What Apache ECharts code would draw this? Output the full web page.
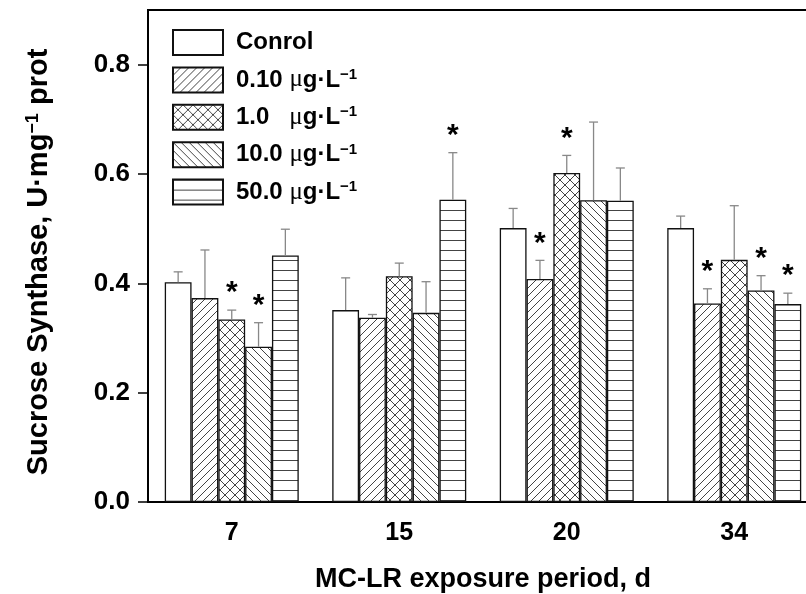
<!DOCTYPE html>
<html><head><meta charset="utf-8">
<script src="https://cdn.jsdelivr.net/npm/echarts@6/dist/echarts.min.js"></script>
<style>html,body{margin:0;padding:0;background:#fff;overflow:hidden}#c{width:818px;height:594px}</style>
</head><body><div id="c"></div>
<script>
const categories = ['7', '15', '20', '34'];
const seriesNames = ['Conrol', '0.10 μg·L−1', '1.0 μg·L−1', '10.0 μg·L−1', '50.0 μg·L−1'];
const control = [0.402, 0.351, 0.501, 0.501];
const c010 = [0.373, 0.337, 0.408, 0.363];
const c1 = [0.334, 0.413, 0.602, 0.443];
const c10 = [0.284, 0.346, 0.552, 0.387];
const c50 = [0.451, 0.553, 0.551, 0.362];
const errControl = [0.019, 0.059, 0.036, 0.022];
const err010 = [0.088, 0.006, 0.034, 0.027];
const err1 = [0.017, 0.024, 0.032, 0.099];
const err10 = [0.044, 0.057, 0.143, 0.027];
const err50 = [0.048, 0.086, 0.060, 0.020];
const sigControl = [0, 0, 0, 0];
const sig010 = [0, 0, 1, 1];
const sig1 = [1, 0, 1, 0];
const sig10 = [1, 0, 0, 1];
const sig50 = [0, 1, 0, 1];
const yTicks = [0, 0.2, 0.4, 0.6, 0.8];

const values = [control, c010, c1, c10, c50];
const errs = [errControl, err010, err1, err10, err50];
const sigs = [sigControl, sig010, sig1, sig10, sig50];

function makePattern(kind) {
  const s = kind === 'h' ? 10 : (kind === 'x' ? 10 : 8);
  const cv = document.createElement('canvas');
  cv.width = s; cv.height = s;
  const ctx = cv.getContext('2d');
  ctx.fillStyle = '#fff'; ctx.fillRect(0, 0, s, s);
  ctx.strokeStyle = '#444'; ctx.lineWidth = 1;
  ctx.beginPath();
  if (kind === 'f' || kind === 'x') {
    for (let k = -1; k <= 1; k++) { ctx.moveTo(k * s - 1, s + 1); ctx.lineTo(k * s + s + 1, -1); }
  }
  if (kind === 'b' || kind === 'x') {
    for (let k = -1; k <= 1; k++) { ctx.moveTo(k * s - 1, -1); ctx.lineTo(k * s + s + 1, s + 1); }
  }
  if (kind === 'h') { ctx.moveTo(0, 0.5); ctx.lineTo(s, 0.5); }
  ctx.stroke();
  return { image: cv, repeat: 'repeat' };
}
const fills = ['#ffffff', makePattern('f'), makePattern('x'), makePattern('b'), makePattern('h')];

const legendLabels = {
  'Conrol': 'Conrol',
  '0.10 μg·L−1': '0.10 {mu|μ}g·L{sup|−1}',
  '1.0 μg·L−1': '1.0   {mu|μ}g·L{sup|−1}',
  '10.0 μg·L−1': '10.0 {mu|μ}g·L{sup|−1}',
  '50.0 μg·L−1': '50.0 {mu|μ}g·L{sup|−1}'
};

const barSeries = seriesNames.map((n, i) => ({
  name: n, type: 'bar', data: values[i],
  barGap: '0%', barCategoryGap: '20%',
  itemStyle: { color: fills[i], borderColor: '#111', borderWidth: 1.3 },
  emphasis: { disabled: true }
}));

const errData = [];
for (let g = 0; g < 5; g++) {
  for (let c = 0; c < categories.length; c++) {
    errData.push([c, g, values[g][c], errs[g][c], sigs[g][c]]);
  }
}

const chart = echarts.init(document.getElementById('c'), null, { renderer: 'canvas' });
chart.setOption({
  animation: false,
  textStyle: { fontFamily: 'Liberation Sans, Arial, sans-serif' },
  grid: { left: 148, right: 0, top: 10, bottom: 92, outerBoundsMode: 'none', containLabel: false, show: true, borderColor: '#000', borderWidth: 2, backgroundColor: 'transparent' },
  legend: {
    data: seriesNames, orient: 'vertical', left: 172, top: 29, padding: 0,
    itemWidth: 50, itemHeight: 25, itemGap: 10.4, selectedMode: false,
    icon: 'rect',
    formatter: n => legendLabels[n],
    textStyle: {
      fontSize: 24, fontWeight: 'bold', color: '#000', padding: [0, 0, 0, 8], lineHeight: 25,
      rich: {
        mu: { fontFamily: 'Liberation Serif', fontWeight: 'normal', fontSize: 25, color: '#000', lineHeight: 25 },
        sup: { fontSize: 15, fontWeight: 'bold', color: '#000', verticalAlign: 'top', lineHeight: 15, padding: [0, 0, 8, 0] }
      }
    }
  },
  graphic: [{
    type: 'text', x: 39, y: 262, rotation: Math.PI / 2, silent: true,
    style: {
      text: 'Sucrose Synthase, U·mg{sup|−1} prot', align: 'center', verticalAlign: 'middle',
      fontSize: 29, fontWeight: 'bold', fill: '#000', fontFamily: 'Liberation Sans',
      rich: { sup: { fontSize: 18, fontWeight: 'bold', fill: '#000', fontFamily: 'Liberation Sans', verticalAlign: 'top', padding: [0, 0, 11, 0] } }
    }
  }],
  xAxis: {
    type: 'category', data: categories,
    axisLine: { lineStyle: { color: '#000', width: 2 } },
    axisTick: { alignWithLabel: true, length: 10, lineStyle: { color: '#000', width: 2 } },
    axisLabel: { fontSize: 25, fontWeight: 'bold', color: '#000', margin: 19 },
    name: 'MC-LR exposure period, d', nameLocation: 'middle', nameGap: 64,
    nameTextStyle: { fontSize: 27, fontWeight: 'bold', color: '#000' }
  },
  yAxis: {
    type: 'value', min: 0, max: 0.9,
    splitLine: { show: false },
    axisLine: { show: true, lineStyle: { color: '#000', width: 2 } },
    axisTick: { show: true, length: 10, customValues: yTicks, lineStyle: { color: '#000', width: 1.5 } },
    axisLabel: { fontSize: 26, fontWeight: 'bold', color: '#000', margin: 18, customValues: yTicks, formatter: v => v.toFixed(1) }
  },
  series: barSeries.concat([{
    type: 'custom', data: errData, z: 5, silent: true,
    encode: { x: 0, y: 2 },
    renderItem: function (params, api) {
      const c = api.value(0), g = api.value(1), v = api.value(2), e = api.value(3), s = api.value(4);
      const base = api.coord([c, v]);
      const top = api.coord([c, v + e]);
      const bw = api.size([1, 0])[0] * 0.8 / 5;
      const x = base[0] + (g - 2) * bw;
      const st = { stroke: '#888', lineWidth: 1.3 };
      const children = [
        { type: 'line', shape: { x1: x, y1: base[1], x2: x, y2: top[1] }, style: st },
        { type: 'line', shape: { x1: x - 4.5, y1: top[1], x2: x + 4.5, y2: top[1] }, style: st }
      ];
      if (s) {
        children.push({ type: 'text', style: { text: '*', x: x, y: top[1] - 17, align: 'center', verticalAlign: 'middle', fontSize: 30, fontWeight: 'bold', fill: '#000', fontFamily: 'Liberation Sans' } });
      }
      return { type: 'group', children: children };
    }
  }])
});
</script></body></html>
